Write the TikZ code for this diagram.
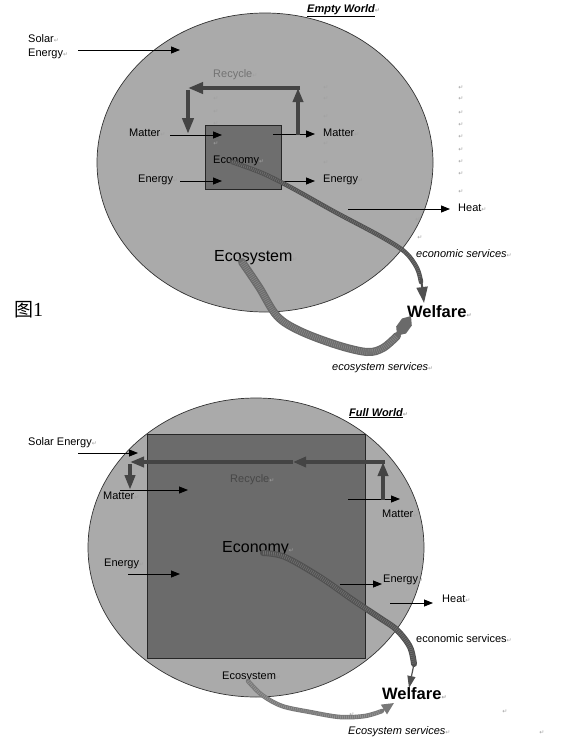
\documentclass[tikz,border=0pt]{standalone}
\usepackage{fontspec}
\setmainfont{Liberation Sans}
\newfontfamily\dejavu{DejaVu Sans}
\newfontfamily\cjkfont{Noto Sans CJK SC}
\newfontfamily\seriffont{Liberation Serif}
\usetikzlibrary{arrows.meta,shapes.geometric}
\definecolor{ellfill}{HTML}{AAAAAA}
\definecolor{boxfill}{HTML}{6E6E6E}
\definecolor{thickcol}{HTML}{444444}
\definecolor{bandA}{HTML}{505050}
\definecolor{bandAhi}{HTML}{6E6E6E}
\definecolor{bandB}{HTML}{6A6A6A}
\definecolor{bandBhi}{HTML}{858585}
\definecolor{bandC}{HTML}{787878}
\definecolor{bandChi}{HTML}{939393}
\definecolor{retcol}{HTML}{A0A0A0}
\newcommand\retmk{{\dejavu\fontsize{6}{6}\selectfont\color{retcol}\char"21B5}}
\tikzset{
  lab/.style={anchor=base west, inner sep=0pt, font=\fontsize{11}{11}\selectfont},
  biglab/.style={anchor=base west, inner sep=0pt, font=\fontsize{16}{16}\selectfont},
  welf/.style={anchor=base west, inner sep=0pt, font=\fontsize{16.5}{16.5}\selectfont\bfseries},
  world/.style={ellipse, draw=black!80, line width=0.7pt, fill=ellfill, inner sep=0pt, minimum width=336pt, minimum height=299pt},
  ecobox/.style={rectangle, draw=black!85, line width=0.6pt, fill=boxfill, inner sep=0pt},
  thin/.style={draw=black, line width=0.8pt, -{Triangle[length=9pt,width=7pt]}},
  recyc/.style={draw=thickcol, line width=4pt, -{Triangle[length=15pt,width=11pt]}},
  texture/.style={draw=#1, dash pattern=on 0.8pt off 1.2pt},
  retn/.style={inner sep=0pt}
}
\begin{document}
\begin{tikzpicture}[x=1pt,y=-1pt]
\useasboundingbox (0,0) rectangle (588,742);

% ================= EMPTY WORLD =================
\node[world] (world1) at (265,162.5) {};
\node[ecobox, minimum width=76pt, minimum height=64pt] (box1) at (243,157) {};
\node[lab, font=\fontsize{11}{11}\selectfont\bfseries\itshape] (title1) at (307,12.5) {\underline{Empty World}\retmk};
\node[lab] (solar1a) at (28,42) {Solar\retmk};
\node[lab] (solar1b) at (28,56) {Energy\retmk};
\node[lab, text=black!55] (recy1) at (213,77) {Recycle\retmk};
\node[lab] (matL1) at (129,136) {Matter\retmk};
\node[lab] (enL1) at (138,182) {Energy\retmk};
\node[lab] (eco1) at (213,163) {Economy\retmk};
\node[lab] (matR1) at (323,136) {Matter\retmk};
\node[lab] (enR1) at (323,182) {Energy\retmk};
\node[lab] (heat1) at (458,211) {Heat\retmk};
\node[lab, font=\fontsize{11}{11}\selectfont\itshape] (esv1) at (416,257) {economic services\retmk};
\node[biglab] (ecosys1) at (214,261) {Ecosystem\retmk};
\node[welf] (welf1) at (407,317) {Welfare\retmk};
\node[lab, font=\fontsize{11}{11}\selectfont\itshape] (ecsv1) at (332,370) {ecosystem services\retmk};
\node[anchor=base west, inner sep=0pt] (fig1) at (14,316) {{\cjkfont\fontsize{19}{19}\selectfont 图}{\seriffont\fontsize{20}{20}\selectfont 1}};

% thin arrows
\coordinate (s1a) at (78,50);   \coordinate (s1b) at (180,50);
\coordinate (m1a) at (170,135); \coordinate (m1b) at (222,135);
\coordinate (e1a) at (180,181); \coordinate (e1b) at (222,181);
\coordinate (m2a) at (273,134); \coordinate (m2b) at (315,134);
\coordinate (e2a) at (278,181); \coordinate (e2b) at (315,181);
\coordinate (h1a) at (348,209); \coordinate (h1b) at (450,209);
\draw[thin] (s1a) -- (s1b);
\draw[thin] (m1a) -- (m1b);
\draw[thin] (e1a) -- (e1b);
\draw[thin] (m2a) -- (m2b);
\draw[thin] (e2a) -- (e2b);
\draw[thin] (h1a) -- (h1b);

% recycle loop
\coordinate (r1a) at (298,135);
\coordinate (r1b) at (298,88);
\coordinate (r1c) at (188,88);
\coordinate (r1d) at (188,134);
\draw[recyc, -{Triangle[length=14pt,width=10pt]}] (r1a) -- (r1b);
\draw[recyc] ([xshift=2pt]r1b) -- (r1c);
\draw[recyc, -{Triangle[length=16pt,width=11pt]}] ([yshift=-2pt]r1c) -- (r1d);

% economy -> welfare (top)
\coordinate (p1) at (232,162);
\draw[draw=bandA, line width=4.5pt, line cap=round] plot[smooth, tension=0.55] coordinates {(p1) (262,173) (292,188) (335,212) (380,236) (405,252) (417,268) (421,282)};
\draw[texture=bandAhi, line width=3pt] plot[smooth, tension=0.55] coordinates {(p1) (262,173) (292,188) (335,212) (380,236) (405,252) (417,268) (421,282)};
\coordinate (p1t) at (424,303);
\draw[draw=bandA, line width=2pt, -{Triangle[length=16pt,width=11pt]}] (421,278) -- (p1t);

% ecosystem -> welfare (top)
\coordinate (q1) at (242,262);
\draw[draw=bandB, line width=8pt, line cap=round] plot[smooth, tension=0.55] coordinates {(q1) (259,287) (277,316) (300,331) (337,345) (367,352) (383,348) (397,336)};
\draw[texture=bandBhi, line width=5.5pt] plot[smooth, tension=0.55] coordinates {(q1) (259,287) (277,316) (300,331) (337,345) (367,352) (383,348) (397,336)};
\fill[bandB] (411,316) -- (411.8,325.5) -- (406,333.5) -- (397,335.7) -- (396.2,326.5) -- (402,318.5) -- cycle;

% stray paragraph marks (top)
\foreach \y [count=\i] in {99,112,124,144} \node[retn] (ra\i) at (216,\y) {\retmk};
\foreach \y [count=\i] in {88,99,117,144,163} \node[retn] (rb\i) at (326,\y) {\retmk};
\foreach \y [count=\i] in {88,99,113,125,137,150,162,174,192} \node[retn] (rc\i) at (461,\y) {\retmk};
\node[retn] (rd1) at (418,220) {\retmk};
\node[retn] (rd2) at (420,238) {\retmk};

% ================= FULL WORLD =================
\node[world] (world2) at (256,547.5) {};
\node[ecobox, fill=boxfill!97!black, minimum width=218pt, minimum height=224pt] (box2) at (256,546) {};
\node[lab, font=\fontsize{11}{11}\selectfont\bfseries\itshape] (title2) at (349,416) {\underline{Full World}\retmk};
\node[lab] (solar2) at (28,445) {Solar Energy\retmk};
\node[lab] (matL2) at (103,499) {Matter\retmk};
\node[lab, text=black!72] (recy2) at (230,482) {Recycle\retmk};
\node[lab] (enL2) at (104,566) {Energy\retmk};
\node[biglab] (eco2) at (222,552) {Economy\retmk};
\node[lab] (matR2) at (382,517) {Matter\retmk};
\node[lab] (enR2) at (383,582) {Energy\retmk};
\node[lab] (heat2) at (442,602) {Heat\retmk};
\node[lab] (esv2) at (416,642) {economic services\retmk};
\node[lab] (ecosys2) at (222,679) {Ecosystem\retmk};
\node[welf] (welf2) at (382,699) {Welfare\retmk};
\node[lab, font=\fontsize{11}{11}\selectfont\itshape] (ecsv2) at (348,734) {Ecosystem services\retmk};
\node[retn] (re1) at (352,715) {\retmk};
\node[retn] (re2) at (505,712) {\retmk};
\node[retn] (re3) at (542,733) {\retmk};

% thin arrows
\coordinate (s2a) at (78,453);  \coordinate (s2b) at (138,453);
\coordinate (m3a) at (120,490); \coordinate (m3b) at (188,490);
\coordinate (e3a) at (128,574); \coordinate (e3b) at (180,574);
\coordinate (m4a) at (348,499); \coordinate (m4b) at (400,499);
\coordinate (e4a) at (340,584); \coordinate (e4b) at (382,584);
\coordinate (h2a) at (390,603); \coordinate (h2b) at (433,603);
\draw[thin] (s2a) -- (s2b);
\draw[thin] (m3a) -- (m3b);
\draw[thin] (e3a) -- (e3b);
\draw[thin] (m4a) -- (m4b);
\draw[thin] (e4a) -- (e4b);
\draw[thin] (h2a) -- (h2b);

% recycle loop (bottom)
\coordinate (r2a) at (383,500);
\coordinate (r2b) at (383,462);
\coordinate (r2m) at (293,462);
\coordinate (r2c) at (130,462);
\coordinate (r2d) at (130,490);
\draw[recyc, -{Triangle[length=14pt,width=10pt]}] (r2a) -- (r2b);
\draw[recyc, -{Triangle[length=13pt,width=10pt]}] ([xshift=2pt]r2b) -- (r2m);
\draw[recyc, -{Triangle[length=14pt,width=10pt]}] (r2m) -- (r2c);
\draw[recyc, -{Triangle[length=15pt,width=10pt]}] ([yshift=-2pt]r2c) -- (r2d);

% economy -> welfare (bottom)
\coordinate (p2) at (263,553);
\draw[draw=bandA, line width=6pt, line cap=round] plot[smooth, tension=0.55] coordinates {(p2) (285,557) (320,577) (353,600) (380,618) (397,630) (410,647) (414,664)};
\draw[texture=bandAhi, line width=4pt] plot[smooth, tension=0.55] coordinates {(p2) (285,557) (320,577) (353,600) (380,618) (397,630) (410,647) (414,664)};
\coordinate (p2t) at (409,688);
\draw[draw=bandA, line width=1.2pt, -{Triangle[length=12pt,width=8pt]}] (414,664) -- (p2t);

% ecosystem -> welfare (bottom)
\coordinate (q2) at (248,681);
\draw[draw=bandC, line width=4.5pt, line cap=round] plot[smooth, tension=0.55] coordinates {(q2) (262,695) (282,706) (310,712) (340,717) (365,716) (382,711)};
\draw[texture=bandChi, line width=3pt] plot[smooth, tension=0.55] coordinates {(q2) (262,695) (282,706) (310,712) (340,717) (365,716) (382,711)};
\coordinate (q2t) at (394,703);
\draw[draw=bandC, line width=2pt, -{Triangle[length=12pt,width=11pt]}] (380,712) -- (q2t);
\end{tikzpicture}
\end{document}
